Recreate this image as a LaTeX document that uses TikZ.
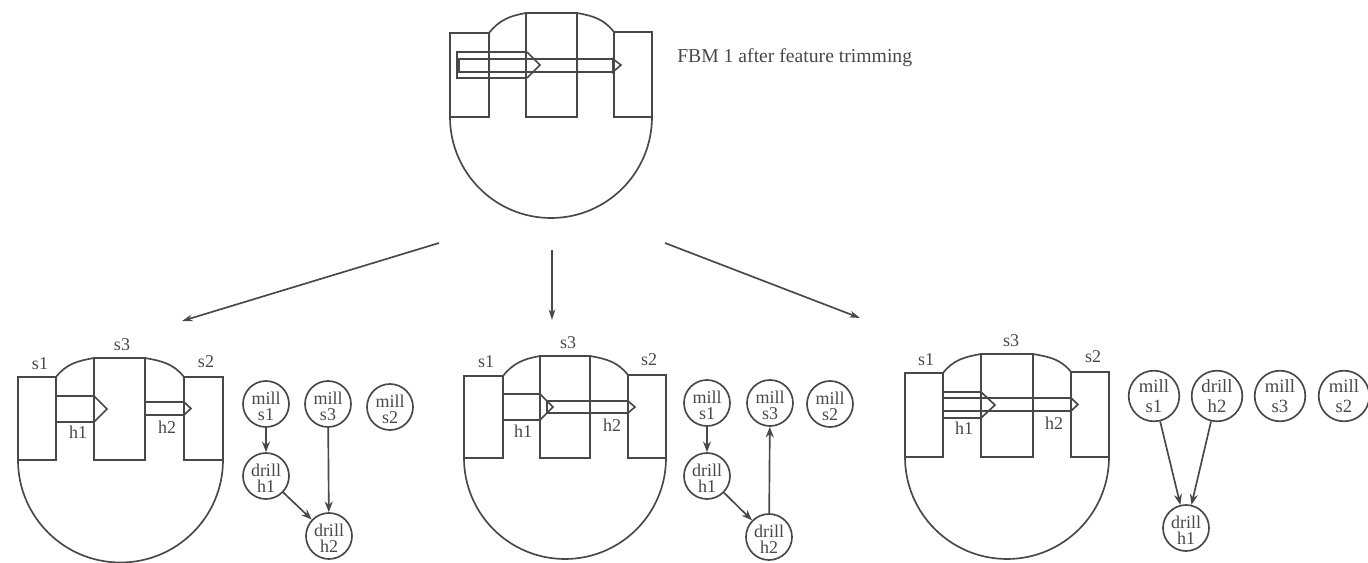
\documentclass[tikz,border=0pt]{standalone}
\usepackage{fontspec}
\setmainfont{Liberation Serif}
\usetikzlibrary{arrows.meta}
\definecolor{ink}{HTML}{484848}
\tikzset{
  x=0.75pt,y=-0.75pt,
  body/.style={draw=ink,line width=1.25pt,line join=miter},
  hole/.style={draw=ink,line width=1.25pt},
  lab/.style={text=ink,font=\fontsize{13.5}{13.5}\selectfont,inner sep=0pt},
  title/.style={text=ink,font=\fontsize{14.75}{15}\selectfont,inner sep=0pt,anchor=west},
  task/.style={circle,draw=ink,line width=1.25pt,minimum size=34.5pt,inner sep=0pt,align=center,text=ink,font=\fontsize{13.5}{12}\selectfont},
  taskbig/.style={task,minimum size=38pt,font=\fontsize{14}{15}\selectfont},
  dep/.style={draw=ink,line width=1.25pt,-{Stealth[length=8pt,width=6pt]}},
  big/.style={draw=ink,line width=1.25pt,-{Stealth[length=8pt,width=5pt]}},
}
\newcommand{\basey}{0}
\newcommand{\rad}{0}
\newcommand{\tk}[2]{\rule{0pt}{13pt}#1\\#2}
% #1..#6: x-left/x-right of s1, s3, s2; #7..#9: tops of s1, s3, s2
\newcommand{\stock}[9]{%
  \path[body] (#2,#7) to[out=52,in=190] (#3,#8);
  \path[body] (#4,#8) to[out=-10,in=128] (#5,#9);
  \path[body] (#1,\basey) arc[start angle=180,end angle=360,x radius=\rad,y radius=-\rad];
  \path[body] (#1,#7) rectangle (#2,\basey);
  \path[body] (#3,#8) rectangle (#4,\basey);
  \path[body] (#5,#9) rectangle (#6,\basey);
}
% #1 x-start #2 x-shoulder #3 x-tip #4 y-top #5 y-bottom
\newcommand{\drillhole}[5]{%
  \path[hole] (#2,#4) -- (#1,#4) -- (#1,#5) -- (#2,#5);
  \path[hole] (#2,#4) -- (#3,{(#4+#5)/2}) -- (#2,#5) -- cycle;
}
\begin{document}
\begin{tikzpicture}
\useasboundingbox (0,0) rectangle (1368,563);
% Top
\renewcommand{\basey}{117}\renewcommand{\rad}{101}
\stock{450}{489}{526}{577}{614}{652}{33}{13}{32}
\path[hole] (527,52) -- (457,52) -- (457,78) -- (527,78);
\path[hole] (527,52) -- (540,65) -- (527,78);
\path[hole] (613,59) -- (459,59) -- (459,72) -- (613,72);
\path[hole] (613,59) -- (621,65) -- (613,72) -- cycle;
\node[title] (t0) at (677,58) {FBM 1 after feature trimming};
% Big arrows
\coordinate (a0) at (439,243); \coordinate (a1) at (182,321);
\coordinate (b0) at (552,250); \coordinate (b1) at (552,320);
\coordinate (c0) at (665,243); \coordinate (c1) at (860,318);
\draw[big] (a0) -- (a1);
\draw[big] (b0) -- (b1);
\draw[big] (c0) -- (c1);
% Part 1
\renewcommand{\basey}{460}\renewcommand{\rad}{102.5}
\stock{18}{56}{94}{145}{184}{223}{377}{358}{377}
\drillhole{56}{94}{107}{396}{422}
\drillhole{145}{184}{191}{402}{415}
\node[lab] (p1s1) at (40,364) {s1};
\node[lab] (p1s3) at (122,345) {s3};
\node[lab] (p1s2) at (206,362) {s2};
\node[lab] (p1h1) at (78,432) {h1};
\node[lab] (p1h2) at (167,427) {h2};
\node[task] (g1ms1) at (266,404) {\tk{mill}{s1}};
\node[task] (g1ms3) at (328,404) {\tk{mill}{s3}};
\node[task] (g1ms2) at (390,407) {\tk{mill}{s2}};
\node[task] (g1dh1) at (266,476) {\tk{drill}{h1}};
\node[task] (g1dh2) at (329,536) {\tk{drill}{h2}};
\draw[dep] (g1ms1) -- (g1dh1);
\draw[dep] (g1ms3) -- (g1dh2);
\draw[dep] (g1dh1) -- (g1dh2);
% Part 2
\renewcommand{\basey}{458}\renewcommand{\rad}{101}
\stock{464}{503}{540}{590}{628}{666}{376}{356}{375}
\drillhole{503}{540}{553}{394}{420}
\drillhole{547}{628}{635}{401}{413}
\node[lab] (p2s1) at (486,362) {s1};
\node[lab] (p2s3) at (568,343) {s3};
\node[lab] (p2s2) at (649,360) {s2};
\node[lab] (p2h1) at (523,431) {h1};
\node[lab] (p2h2) at (612,425) {h2};
\node[task] (g2ms1) at (707,403) {\tk{mill}{s1}};
\node[task] (g2ms3) at (770,403) {\tk{mill}{s3}};
\node[task] (g2ms2) at (830,404) {\tk{mill}{s2}};
\node[task] (g2dh1) at (707,476) {\tk{drill}{h1}};
\node[task] (g2dh2) at (769,537) {\tk{drill}{h2}};
\draw[dep] (g2ms1) -- (g2dh1);
\draw[dep] (g2dh2) -- (g2ms3);
\draw[dep] (g2dh1) -- (g2dh2);
% Part 3
\renewcommand{\basey}{457}\renewcommand{\rad}{102}
\stock{905}{943}{981}{1033}{1071}{1109}{373}{354}{372}
\drillhole{943}{981}{995}{392}{418}
\drillhole{943}{1071}{1078}{398}{411}
\node[lab] (p3s1) at (926,360) {s1};
\node[lab] (p3s3) at (1011,341) {s3};
\node[lab] (p3s2) at (1093,357) {s2};
\node[lab] (p3h1) at (964,428) {h1};
\node[lab] (p3h2) at (1054,423) {h2};
\node[taskbig] (g3ms1) at (1154,396) {mill\\s1};
\node[taskbig] (g3dh2) at (1217,396) {drill\\h2};
\node[taskbig] (g3ms3) at (1280,396) {mill\\s3};
\node[taskbig] (g3ms2) at (1344,396) {mill\\s2};
\node[task] (g3dh1) at (1186,528) {\tk{drill}{h1}};
\draw[dep] (g3ms1) -- (g3dh1);
\draw[dep] (g3dh2) -- (g3dh1);
\end{tikzpicture}
\end{document}
